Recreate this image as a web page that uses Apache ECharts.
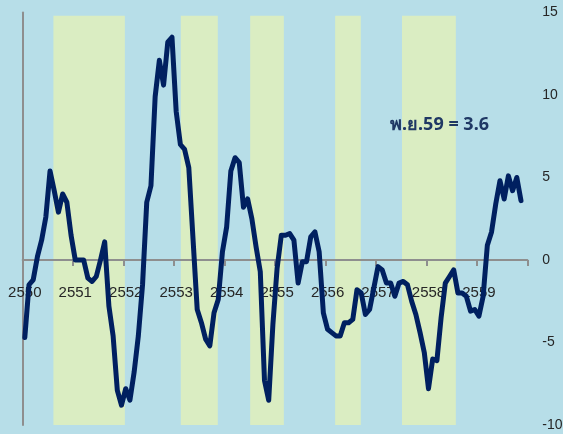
<!DOCTYPE html>
<html>
<head>
<meta charset="utf-8">
<script src="https://cdn.jsdelivr.net/npm/echarts@6/dist/echarts.min.js"></script>
<style>
html,body{margin:0;padding:0;background:#B7DEE8;}
#chart{width:563px;height:434px;}
</style>
</head>
<body>
<div id="chart"></div>
<script>
// Thai Buddhist-era years shown on the category axis
const years = ['2550','2551','2552','2553','2554','2555','2556','2557','2558','2559'];
const monthsPerYear = 12;

// Monthly values, Jan 2550 .. Nov 2559
const values = [
  -4.7, -1.5, -1.2, 0.2, 1.2, 2.6, 5.4, 4.2, 2.9, 4.0, 3.5, 1.5,
  0.0, 0.0, 0.0, -1.1, -1.3, -1.0, 0.0, 1.1, -2.8, -4.6, -7.9, -8.8,
  -7.8, -8.5, -6.8, -4.6, -1.5, 3.5, 4.5, 9.9, 12.1, 10.6, 13.2, 13.5,
  9.0, 7.0, 6.7, 5.6, 1.3, -3.0, -3.8, -4.8, -5.2, -3.2, -2.4, 0.5,
  2.0, 5.4, 6.2, 5.9, 3.2, 3.7, 2.5, 0.8, -0.7, -7.3, -8.5, -3.9,
  -0.5, 1.5, 1.5, 1.6, 1.2, -1.4, -0.1, -0.1, 1.4, 1.7, 0.5, -3.2,
  -4.2, -4.4, -4.6, -4.6, -3.8, -3.8, -3.6, -1.8, -2.0, -3.3, -3.0, -1.7,
  -0.4, -0.6, -1.4, -1.4, -2.2, -1.4, -1.3, -1.5, -2.5, -3.3, -4.4, -5.6,
  -7.8, -6.0, -6.1, -3.5, -1.4, -1.0, -0.6, -2.0, -2.0, -2.2, -3.1, -3.0,
  -3.4, -2.2, 0.9, 1.7, 3.4, 4.8, 3.7, 5.1, 4.2, 5.0, 3.6
];

// Shaded periods, in months from the start of 2550 (start, end)
const bandStarts = [7.3, 37.6, 54.1, 74.3, 90.2];
const bandEnds   = [24.3, 46.4, 62.1, 80.4, 103.0];

const yMin = -10, yMax = 15, yStep = 5;
const noteText = 'พ.ย.59 = 3.6';

const categories = [];
years.forEach(function (y) {
  for (let m = 1; m <= monthsPerYear; m++) categories.push(y + '-' + m);
});
const lineData = categories.map(function (c, i) {
  return i < values.length ? values[i] : null;
});

const W = 563, H = 434;
const grid = {left: 22.7, right: 35.7, top: 12.5, bottom: 9};
const plotH = H - grid.top - grid.bottom;
// move the category axis up from the bottom of the plot to the value 0
const zeroOffset = -plotH * (0 - yMin) / (yMax - yMin);

const chart = echarts.init(document.getElementById('chart'), null, {renderer: 'canvas', width: W, height: H});
const axisGray = '#8E8E8E';
chart.setOption({
  backgroundColor: '#B7DEE8',
  animation: false,
  grid: Object.assign({containLabel: false, outerBoundsMode: 'none'}, grid),
  xAxis: [{
    type: 'category',
    data: categories,
    boundaryGap: true,
    position: 'bottom',
    offset: zeroOffset,
    z: 2,
    axisLine: {show: true, onZero: false, lineStyle: {color: axisGray, width: 2}},
    axisTick: {show: true, interval: monthsPerYear - 1, length: 6, lineStyle: {color: axisGray, width: 2}},
    axisLabel: {
      interval: monthsPerYear - 1,
      margin: 25,
      color: '#262626',
      fontSize: 15,
      fontFamily: 'Liberation Sans',
      hideOverlap: false,
      formatter: function (v) { return v.split('-')[0]; }
    },
    splitLine: {show: false}
  }, {
    type: 'value',
    min: 0,
    max: years.length * monthsPerYear,
    show: false,
    axisLine: {onZero: false}
  }],
  yAxis: [{
    type: 'value',
    position: 'right',
    min: yMin,
    max: yMax,
    interval: yStep,
    axisLine: {show: false, onZero: false},
    axisTick: {show: false},
    splitLine: {show: false},
    axisLabel: {margin: 15, color: '#262626', fontSize: 14, fontFamily: 'Liberation Sans', align: 'left', hideOverlap: false}
  }, {
    type: 'value',
    position: 'left',
    min: yMin,
    max: yMax,
    interval: yStep,
    z: 2,
    axisLine: {show: true, onZero: false, lineStyle: {color: axisGray, width: 2}},
    axisTick: {show: false},
    axisLabel: {show: false},
    splitLine: {show: false}
  }],
  series: [{
    type: 'line',
    xAxisIndex: 1,
    yAxisIndex: 0,
    data: [],
    clip: false,
    silent: true,
    markArea: {
      silent: true,
      z: 1,
      itemStyle: {color: '#DAEDC2'},
      data: bandStarts.map(function (s, i) {
        return [{xAxis: s, yAxis: 14.8}, {xAxis: bandEnds[i], yAxis: -10.3}];
      })
    }
  }, {
    type: 'line',
    xAxisIndex: 0,
    yAxisIndex: 0,
    z: 3,
    data: lineData,
    showSymbol: false,
    symbol: 'none',
    clip: false,
    lineStyle: {color: '#002060', width: 5, join: 'round', cap: 'round'}
  }],
  graphic: [{
    type: 'text',
    left: 390,
    top: 116,
    z: 10,
    style: {
      text: noteText,
      fill: '#1F3864',
      font: 'bold 18px "Noto Sans", "Liberation Sans", sans-serif',
      shadowColor: 'rgba(0,0,0,0.35)',
      shadowBlur: 2,
      shadowOffsetX: 1,
      shadowOffsetY: 1
    }
  }]
});
</script>
</body>
</html>
